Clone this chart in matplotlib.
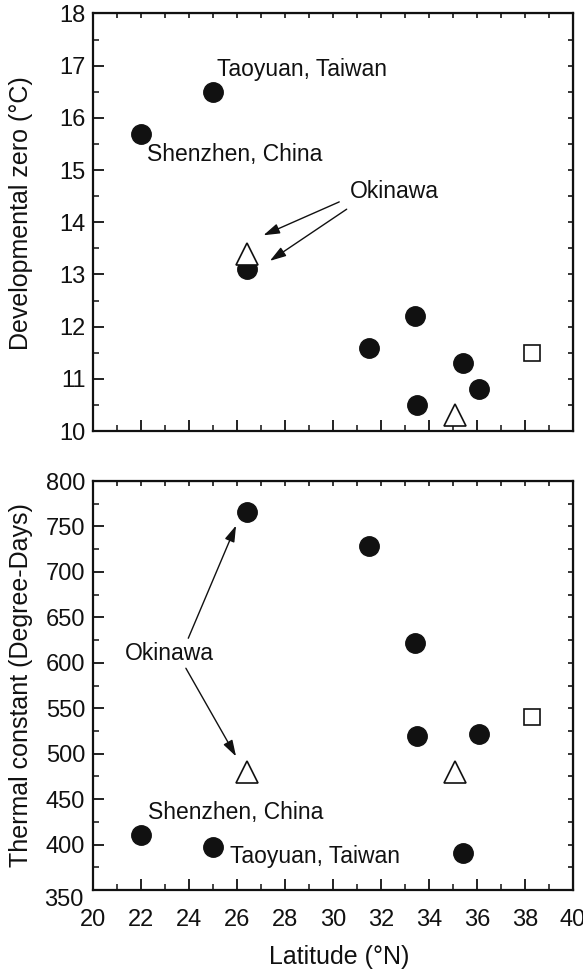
import matplotlib
matplotlib.use("Agg")
import matplotlib.pyplot as plt
import matplotlib.transforms as mtransforms
from matplotlib.ticker import MultipleLocator, FuncFormatter

plt.rcParams['font.family'] = ['Liberation Sans', 'DejaVu Sans']

# ---- data ----
# Developmental zero (top panel)
dz_circle_lat = [22.0, 25.0, 26.4, 31.5, 33.4, 33.5, 35.4, 36.1]
dz_circle_val = [15.7, 16.5, 13.1, 11.6, 12.2, 10.5, 11.3, 10.8]
dz_tri_lat = [26.4, 35.1]
dz_tri_val = [13.4, 10.3]
dz_sq_lat = [38.3]
dz_sq_val = [11.5]

# Thermal constant (bottom panel)
tc_circle_lat = [22.0, 25.0, 26.4, 31.5, 33.4, 33.5, 35.4, 36.1]
tc_circle_val = [410, 397, 766, 729, 622, 519, 391, 522]
tc_tri_lat = [26.4, 35.1]
tc_tri_val = [480, 480]
tc_sq_lat = [38.3]
tc_sq_val = [540]

W, H = 583, 973
fig = plt.figure(figsize=(W / 100, H / 100), dpi=100)

ax1 = fig.add_axes([93 / W, 1 - 431 / H, 480 / W, (431 - 13.5) / H])
ax2 = fig.add_axes([93 / W, 1 - 890 / H, 480 / W, (890 - 481) / H])

circ_kw = dict(marker='o', ms=14, mfc='#111111', mec='#111111', ls='none', zorder=3)
tri_kw = dict(marker='^', ms=15.5, mfc='white', mec='#111111', mew=1.2, ls='none', zorder=3)
sq_kw = dict(marker='s', ms=12, mfc='white', mec='#111111', mew=1.2, ls='none', zorder=3)

ax1.plot(dz_circle_lat, dz_circle_val, **circ_kw)
ax1.plot(dz_tri_lat, dz_tri_val, **tri_kw)
ax1.plot(dz_sq_lat, dz_sq_val, **sq_kw)

ax2.plot(tc_circle_lat, tc_circle_val, **circ_kw)
ax2.plot(tc_tri_lat, tc_tri_val, **tri_kw)
ax2.plot(tc_sq_lat, tc_sq_val, **sq_kw)

ax1.set_xlim(20, 40)
ax1.set_ylim(10, 18)
ax2.set_xlim(20, 40)
ax2.set_ylim(350, 800)

ax1.xaxis.set_major_locator(MultipleLocator(2))
ax1.xaxis.set_minor_locator(MultipleLocator(1))
ax1.yaxis.set_major_locator(MultipleLocator(1))
ax1.yaxis.set_minor_locator(MultipleLocator(0.5))
ax2.xaxis.set_major_locator(MultipleLocator(2))
ax2.xaxis.set_minor_locator(MultipleLocator(1))
ax2.yaxis.set_major_locator(MultipleLocator(50))
ax2.yaxis.set_minor_locator(MultipleLocator(25))
# the lowest label (350) is drawn separately, nudged down as in the original
ax2.yaxis.set_major_formatter(FuncFormatter(lambda v, p: '' if abs(v - 350) < 1e-6 else f'{v:.0f}'))

for ax in (ax1, ax2):
    for s in ax.spines.values():
        s.set_linewidth(1.6)
        s.set_color('#111111')
    ax.tick_params(which='major', direction='in', length=8, width=1.3, labelsize=17,
                   colors='#111111')
    ax.tick_params(axis='y', which='major', pad=5.5)
    ax.tick_params(axis='x', which='major', pad=13.5)
    ax.tick_params(which='minor', direction='in', length=4, width=1.1, colors='#111111')
    # short ticks on top and right
    sx = ax.secondary_xaxis('top')
    sx.xaxis.set_major_locator(MultipleLocator(1))
    sx.tick_params(which='major', direction='in', length=3.5, width=1.1, labeltop=False)
    sx.tick_params(which='minor', length=0)
    sy = ax.secondary_yaxis('right')
    sy.yaxis.set_major_locator(MultipleLocator(0.5 if ax is ax1 else 25))
    sy.tick_params(which='major', direction='in', length=3.5, width=1.1, labelright=False)
    sy.tick_params(which='minor', length=0)

off = mtransforms.ScaledTranslation(0, -10 / 100, fig.dpi_scale_trans)
ax2.text(-10 / 480, 350, '350', fontsize=17, color='#111111', ha='right', va='center',
         transform=ax2.get_yaxis_transform() + off)

ax1.tick_params(axis='x', labelbottom=False)
ax1.set_ylabel('Developmental zero (°C)', fontsize=18, color='#111111')
ax2.set_ylabel('Thermal constant (Degree-Days)', fontsize=18, color='#111111')
ax2.set_xlabel('Latitude (°N)', fontsize=18, color='#111111')
ax1.yaxis.set_label_coords(-0.125, 0.522)
ax2.yaxis.set_label_coords(-0.125, 0.5)
ax2.xaxis.set_label_coords(0.5125, -0.135)

tkw = dict(fontsize=16.5, color='#111111', va='center', ha='left')
arrow = dict(arrowstyle='-|>,head_length=0.7,head_width=0.22', lw=1.0, color='#111111',
             mutation_scale=14, shrinkA=0, shrinkB=0)

# top annotations
ax1.text(25.15, 16.93, 'Taoyuan, Taiwan', **tkw)
ax1.text(22.24, 15.29, 'Shenzhen, China', **tkw)
ax1.text(30.7, 14.58, 'Okinawa', **tkw)
ax1.annotate('', xy=(27.1, 13.75), xytext=(30.26, 14.39), arrowprops=arrow)
ax1.annotate('', xy=(27.37, 13.26), xytext=(30.57, 14.25), arrowprops=arrow)

# bottom annotations
ax2.text(21.33, 610, 'Okinawa', **tkw)
ax2.annotate('', xy=(25.96, 751), xytext=(23.97, 627), arrowprops=arrow)
ax2.annotate('', xy=(25.96, 497), xytext=(23.87, 594), arrowprops=arrow)
ax2.text(22.3, 435, 'Shenzhen, China', **tkw)
ax2.text(25.7, 387, 'Taoyuan, Taiwan', **tkw)

fig.savefig('out.png', dpi=100)
